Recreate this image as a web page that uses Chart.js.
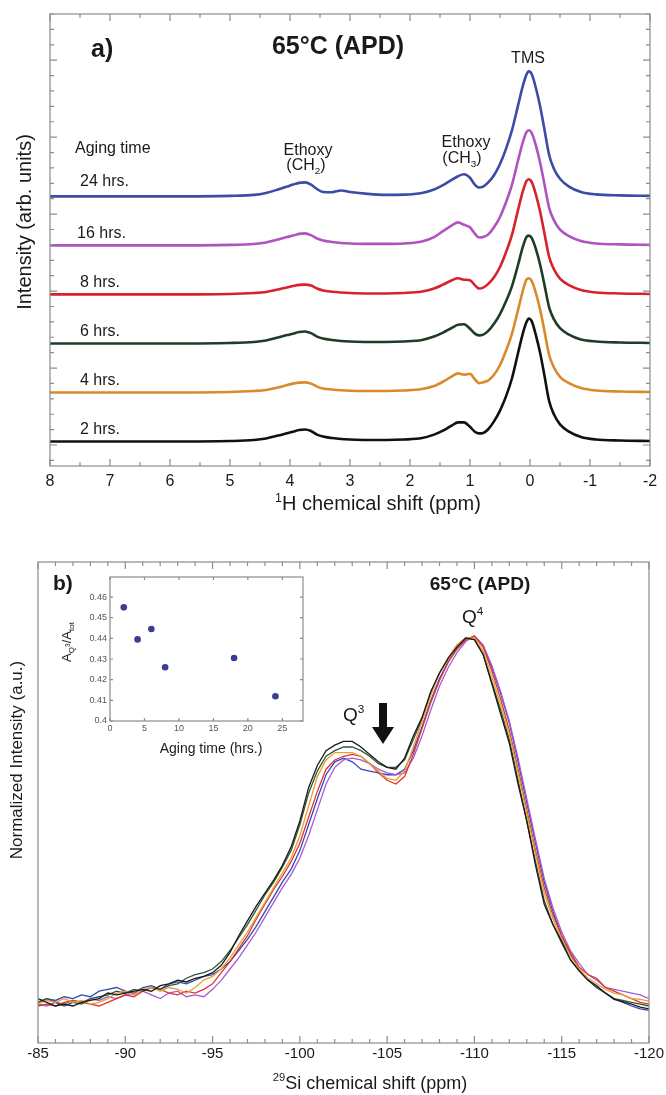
<!DOCTYPE html>
<html>
<head>
<meta charset="utf-8">
<script src="https://cdn.jsdelivr.net/npm/chart.js@4.4.1/dist/chart.umd.min.js"></script>
<style>
  html, body { margin: 0; padding: 0; background: #fff; }
  #page { position: relative; width: 666px; height: 1095px; overflow: hidden; background: #fff; }
  canvas { position: absolute; }
</style>
</head>
<body>
<div id="page">
  <canvas id="chart-h" width="666" height="520" style="left:0;top:0"></canvas>
  <canvas id="chart-si" width="666" height="570" style="left:0;top:525px"></canvas>
  <canvas id="chart-inset" width="250" height="190" style="left:60px;top:568px"></canvas>
</div>
<script>
// ---- (a) 1H spectra, stacked ----
const hShift = [8, 6, 5, 4.6, 4.4, 4.2, 4.05, 3.95, 3.85, 3.75, 3.65, 3.55, 3.45, 3.3, 3.15, 3.0, 2.7, 2.4, 2.1, 1.8,
  1.6, 1.45, 1.3, 1.2, 1.1, 1.0, 0.92, 0.85, 0.78, 0.7, 0.6, 0.5, 0.4, 0.3, 0.2, 0.12, 0.06, 0.02, -0.03, -0.1,
  -0.17, -0.24, -0.32, -0.4, -0.5, -0.65, -0.85, -1.1, -1.5, -2];
const hLabels = ['2 hrs.', '4 hrs.', '6 hrs.', '8 hrs.', '16 hrs.', '24 hrs.'];
const hOffsets = [0.5, 1.5, 2.5, 3.5, 4.5, 5.5];
const h2 = [0, 0, 0.01, 0.03, 0.06, 0.12, 0.17, 0.2, 0.235, 0.245, 0.215, 0.14, 0.1, 0.07, 0.05, 0.04, 0.03, 0.03, 0.04, 0.07,
  0.14, 0.22, 0.33, 0.39, 0.39, 0.3, 0.2, 0.165, 0.175, 0.245, 0.41, 0.63, 0.92, 1.29, 1.8, 2.2, 2.43, 2.51, 2.45, 2.16,
  1.8, 1.35, 0.82, 0.55, 0.35, 0.2, 0.09, 0.04, 0.02, 0.01];
const h4 = [0, 0, 0.01, 0.03, 0.05, 0.1, 0.15, 0.18, 0.2, 0.205, 0.18, 0.12, 0.08, 0.06, 0.045, 0.035, 0.03, 0.03, 0.04, 0.07,
  0.13, 0.22, 0.33, 0.39, 0.36, 0.38, 0.27, 0.19, 0.21, 0.24, 0.36, 0.56, 0.85, 1.2, 1.68, 2.07, 2.3, 2.33, 2.27, 2.02,
  1.68, 1.26, 0.76, 0.51, 0.32, 0.19, 0.09, 0.04, 0.02, 0.01];
const h6 = [0, 0, 0.01, 0.03, 0.06, 0.12, 0.17, 0.2, 0.235, 0.245, 0.21, 0.14, 0.1, 0.07, 0.05, 0.04, 0.03, 0.03, 0.04, 0.07,
  0.14, 0.22, 0.32, 0.38, 0.39, 0.3, 0.2, 0.165, 0.18, 0.25, 0.4, 0.6, 0.86, 1.17, 1.6, 1.97, 2.17, 2.2, 2.15, 1.92,
  1.6, 1.2, 0.73, 0.49, 0.31, 0.18, 0.08, 0.04, 0.02, 0.01];
const h8 = [0, 0, 0.01, 0.03, 0.05, 0.1, 0.14, 0.17, 0.195, 0.2, 0.18, 0.12, 0.08, 0.055, 0.04, 0.03, 0.02, 0.02, 0.03, 0.06,
  0.12, 0.2, 0.29, 0.33, 0.3, 0.29, 0.19, 0.12, 0.14, 0.21, 0.35, 0.56, 0.86, 1.22, 1.72, 2.1, 2.31, 2.35, 2.29, 2.03,
  1.68, 1.25, 0.76, 0.51, 0.32, 0.19, 0.09, 0.04, 0.02, 0.01];
const h16 = [0, 0, 0.01, 0.03, 0.06, 0.12, 0.17, 0.2, 0.235, 0.245, 0.21, 0.14, 0.1, 0.07, 0.05, 0.04, 0.03, 0.03, 0.04, 0.08,
  0.17, 0.29, 0.41, 0.47, 0.42, 0.37, 0.24, 0.16, 0.17, 0.22, 0.37, 0.58, 0.88, 1.24, 1.73, 2.1, 2.31, 2.35, 2.29, 2.03,
  1.68, 1.25, 0.76, 0.51, 0.32, 0.19, 0.09, 0.04, 0.02, 0.01];
const h24 = [0, 0, 0.01, 0.03, 0.07, 0.14, 0.2, 0.24, 0.275, 0.285, 0.24, 0.15, 0.09, 0.085, 0.12, 0.09, 0.05, 0.03, 0.035, 0.07,
  0.14, 0.23, 0.34, 0.41, 0.45, 0.38, 0.24, 0.18, 0.2, 0.28, 0.43, 0.66, 0.97, 1.35, 1.85, 2.25, 2.48, 2.55, 2.49, 2.2,
  1.83, 1.37, 0.84, 0.56, 0.36, 0.2, 0.09, 0.04, 0.02, 0.01];
const hColors = ['#111111', '#d98b2b', '#1e3d26', '#d7222c', '#b052c0', '#3b4ca6'];

// ---- (b) 29Si spectra ----
const siShift = [-85, -85.5, -86, -86.5, -87, -87.5, -88, -88.5, -89, -89.5, -90, -90.5, -91, -91.5, -92, -92.5, -93, -93.5,
  -94, -94.5, -95, -95.5, -96, -96.5, -97, -97.5, -98, -98.5, -99, -99.5, -100, -100.5, -101, -101.5, -102, -102.5,
  -103, -103.5, -104, -104.5, -105, -105.5, -106, -106.5, -107, -107.5, -108, -108.5, -109, -109.5, -110, -110.5,
  -111, -111.5, -112, -112.5, -113, -113.5, -114, -114.5, -115, -115.5, -116, -116.5, -117, -117.5, -118, -118.5,
  -119, -119.5, -120];
const si2 = [0.02, 0.01, 0.0, 0.005, 0.0, 0.01, 0.015, 0.02, 0.035, 0.03, 0.035, 0.04, 0.045, 0.04, 0.055, 0.06, 0.07, 0.065,
  0.075, 0.08, 0.09, 0.11, 0.145, 0.19, 0.23, 0.27, 0.305, 0.34, 0.38, 0.43, 0.5, 0.59, 0.65, 0.69, 0.705, 0.715,
  0.715, 0.7, 0.68, 0.66, 0.645, 0.64, 0.67, 0.73, 0.78, 0.85, 0.9, 0.94, 0.97, 0.995, 0.99, 0.95, 0.87, 0.79, 0.71,
  0.6, 0.5, 0.38, 0.275, 0.22, 0.175, 0.125, 0.095, 0.07, 0.055, 0.035, 0.018, 0.012, 0.005, -0.003, -0.008];
const si4 = [0.005, 0.015, 0.01, 0.02, 0.01, 0.015, 0.005, 0.01, 0.02, 0.035, 0.04, 0.03, 0.045, 0.05, 0.04, 0.05, 0.045, 0.035,
  0.05, 0.07, 0.08, 0.1, 0.13, 0.165, 0.2, 0.24, 0.28, 0.32, 0.36, 0.4, 0.46, 0.54, 0.62, 0.665, 0.685, 0.685,
  0.685, 0.675, 0.655, 0.635, 0.615, 0.61, 0.635, 0.7, 0.77, 0.84, 0.9, 0.94, 0.975, 0.995, 0.995, 0.96, 0.89, 0.815, 0.735,
  0.63, 0.52, 0.41, 0.305, 0.235, 0.18, 0.135, 0.1, 0.075, 0.06, 0.045, 0.035, 0.03, 0.02, 0.018, 0.013];
const si6 = [0.01, 0.02, 0.01, 0.0, 0.01, 0.005, 0.02, 0.025, 0.03, 0.04, 0.035, 0.045, 0.04, 0.05, 0.045, 0.055, 0.06, 0.075,
  0.085, 0.09, 0.1, 0.12, 0.15, 0.185, 0.22, 0.26, 0.3, 0.335, 0.375, 0.42, 0.49, 0.575, 0.635, 0.675, 0.69, 0.7,
  0.7, 0.69, 0.675, 0.655, 0.645, 0.645, 0.665, 0.72, 0.775, 0.845, 0.9, 0.94, 0.975, 0.995, 0.99, 0.95, 0.875, 0.8, 0.72,
  0.61, 0.5, 0.39, 0.285, 0.22, 0.17, 0.125, 0.095, 0.07, 0.05, 0.035, 0.02, 0.015, 0.01, 0.005, 0.0];
const si8 = [0.0, 0.005, 0.0, 0.01, 0.015, 0.01, 0.005, 0.0, 0.01, 0.02, 0.03, 0.025, 0.04, 0.05, 0.045, 0.035, 0.03, 0.04,
  0.035, 0.045, 0.06, 0.09, 0.12, 0.155, 0.19, 0.235, 0.275, 0.315, 0.35, 0.39, 0.44, 0.51, 0.58, 0.64, 0.665, 0.675,
  0.68, 0.675, 0.655, 0.63, 0.61, 0.6, 0.62, 0.68, 0.75, 0.82, 0.88, 0.93, 0.965, 0.99, 1.0, 0.97, 0.905, 0.83, 0.745,
  0.64, 0.53, 0.42, 0.32, 0.245, 0.19, 0.145, 0.105, 0.085, 0.075, 0.05, 0.04, 0.03, 0.02, 0.01, 0.005];
const si16 = [0.005, 0.0, 0.01, 0.005, 0.015, 0.01, 0.02, 0.015, 0.025, 0.02, 0.03, 0.035, 0.04, 0.03, 0.02, 0.035, 0.04, 0.025,
  0.03, 0.025, 0.045, 0.07, 0.1, 0.13, 0.165, 0.2, 0.24, 0.28, 0.32, 0.355, 0.4, 0.46, 0.53, 0.6, 0.645, 0.665,
  0.67, 0.665, 0.655, 0.64, 0.63, 0.625, 0.63, 0.67, 0.73, 0.8, 0.865, 0.915, 0.955, 0.985, 1.0, 0.975, 0.92, 0.85, 0.77,
  0.67, 0.56, 0.45, 0.345, 0.265, 0.2, 0.15, 0.115, 0.085, 0.07, 0.05, 0.045, 0.04, 0.035, 0.03, 0.02];
const si24 = [0.01, 0.02, 0.015, 0.025, 0.02, 0.03, 0.025, 0.04, 0.045, 0.05, 0.04, 0.035, 0.05, 0.055, 0.045, 0.06, 0.065, 0.06,
  0.07, 0.08, 0.085, 0.1, 0.12, 0.15, 0.18, 0.215, 0.255, 0.295, 0.335, 0.37, 0.42, 0.49, 0.56, 0.625, 0.66, 0.67,
  0.66, 0.64, 0.635, 0.63, 0.625, 0.625, 0.64, 0.69, 0.755, 0.825, 0.885, 0.93, 0.965, 0.99, 1.0, 0.975, 0.915, 0.845, 0.765,
  0.66, 0.55, 0.44, 0.335, 0.255, 0.19, 0.14, 0.1, 0.07, 0.05, 0.035, 0.02, 0.01, 0.0, -0.008, -0.012];
const siColors = ['#1a1a1a', '#e8a030', '#2f5a36', '#e3342f', '#a65bd6', '#3548b8'];

// ---- inset: Q3 fraction vs aging time ----
const agingHours = [2, 4, 6, 8, 18, 24];
const q3Fraction = [0.455, 0.4395, 0.4445, 0.426, 0.4305, 0.412];

const FONT = "'Liberation Sans', Arial, Helvetica, sans-serif";
const INK = '#1a1a1a';
Chart.defaults.font.family = FONT;

const sup = (text) => ({text, scale: 0.62, dy: -0.42});
const sub = (text) => ({text, scale: 0.62, dy: 0.25});

// draws a run of text pieces (super/subscripts) on one baseline
function drawRich(ctx, x, y, parts, size, {align = 'left', weight = 'normal', rotate = 0} = {}) {
	let total = 0;
	const pieces = parts.map((p) => {
		const s = size * (p.scale || 1);
		ctx.font = `${weight} ${s}px ${FONT}`;
		const w = ctx.measureText(p.text).width;
		total += w;
		return {...p, s, w};
	});
	ctx.save();
	ctx.translate(x, y);
	if (rotate) ctx.rotate(rotate);
	ctx.fillStyle = INK;
	ctx.textAlign = 'left';
	ctx.textBaseline = 'alphabetic';
	let cx = align === 'center' ? -total / 2 : (align === 'right' ? -total : 0);
	for (const p of pieces) {
		ctx.font = `${weight} ${p.s}px ${FONT}`;
		ctx.fillText(p.text, cx, (p.dy || 0) * size);
		cx += p.w;
	}
	ctx.restore();
}

// box around the plot area with inward tick marks
const framePlugin = {
	id: 'frame',
	afterDatasetsDraw(chart, args, opts) {
		const {ctx, chartArea: a} = chart;
		const ticksFor = (scale, spec) => {
			const out = [];
			const kMin = Math.ceil((scale.min - spec.anchor) / spec.step - 1e-6);
			const kMax = Math.floor((scale.max - spec.anchor) / spec.step + 1e-6);
			for (let k = kMin; k <= kMax; k++) {
				out.push({v: spec.anchor + k * spec.step, major: ((k % spec.majorEvery) + spec.majorEvery) % spec.majorEvery === 0});
			}
			return out;
		};
		ctx.save();
		ctx.strokeStyle = opts.color;
		ctx.lineWidth = 1.2;
		ctx.strokeRect(a.left, a.top, a.right - a.left, a.bottom - a.top);
		ctx.beginPath();
		if (opts.x) {
			for (const t of ticksFor(chart.scales.x, opts.x)) {
				const px = chart.scales.x.getPixelForValue(t.v);
				const len = t.major ? opts.major : opts.minor;
				if (opts.x.sides.includes('bottom')) { ctx.moveTo(px, a.bottom); ctx.lineTo(px, a.bottom - len); }
				if (opts.x.sides.includes('top')) { ctx.moveTo(px, a.top); ctx.lineTo(px, a.top + len); }
			}
		}
		if (opts.y) {
			for (const t of ticksFor(chart.scales.y, opts.y)) {
				const py = chart.scales.y.getPixelForValue(t.v);
				const len = t.major ? opts.major : opts.minor;
				if (opts.y.sides.includes('left')) { ctx.moveTo(a.left, py); ctx.lineTo(a.left + len, py); }
				if (opts.y.sides.includes('right')) { ctx.moveTo(a.right, py); ctx.lineTo(a.right - len, py); }
			}
		}
		ctx.stroke();
		ctx.restore();
	},
};

const hiddenGrid = {display: false, drawTicks: false};

// ---- panel a ----
const hText = {
	id: 'hText',
	afterDraw(chart) {
		const {ctx} = chart;
		drawRich(ctx, 91, 57, [{text: 'a)'}], 25, {weight: 'bold'});
		drawRich(ctx, 338, 54, [{text: '65°C (APD)'}], 25, {weight: 'bold', align: 'center'});
		drawRich(ctx, 528, 63, [{text: 'TMS'}], 16, {align: 'center'});
		drawRich(ctx, 75, 153, [{text: 'Aging time'}], 16);
		drawRich(ctx, 308, 155, [{text: 'Ethoxy'}], 16, {align: 'center'});
		drawRich(ctx, 306, 170, [{text: '(CH'}, sub('2'), {text: ')'}], 16, {align: 'center'});
		drawRich(ctx, 466, 147, [{text: 'Ethoxy'}], 16, {align: 'center'});
		drawRich(ctx, 462, 163, [{text: '(CH'}, sub('3'), {text: ')'}], 16, {align: 'center'});
		const yScale = chart.scales.y;
		hLabels.forEach((label, i) => {
			const base = yScale.getPixelForValue(hOffsets[i]);
			drawRich(ctx, i === 4 ? 77 : 80, base - (i === 5 ? 10 : 7), [{text: label}], 16);
		});
		drawRich(ctx, 378, 510, [sup('1'), {text: 'H chemical shift (ppm)'}], 20, {align: 'center'});
		drawRich(ctx, 31, 222, [{text: 'Intensity (arb. units)'}], 20, {align: 'center', rotate: -Math.PI / 2});
	},
};

const hSeries = [h2, h4, h6, h8, h16, h24];
new Chart(document.querySelector('#chart-h'), {
	type: 'line',
	data: {
		datasets: hSeries.map((vals, i) => ({
			label: hLabels[i],
			data: hShift.map((x, j) => ({x, y: vals[j] + hOffsets[i]})),
			borderColor: hColors[i],
			borderWidth: 2.6,
			pointRadius: 0,
			fill: false,
			cubicInterpolationMode: 'monotone',
		})),
	},
	options: {
		responsive: false,
		animation: false,
		devicePixelRatio: 1,
		layout: {padding: {left: 50, right: 16, top: 14, bottom: 0}},
		plugins: {
			legend: {display: false},
			tooltip: {enabled: false},
			frame: {
				color: '#8c8c8c', major: 7, minor: 4,
				x: {anchor: 0, step: 0.5, majorEvery: 2, sides: ['bottom', 'top']},
				y: {anchor: 8.278, step: 0.314, majorEvery: 5, sides: ['left', 'right']},
			},
		},
		scales: {
			x: {
				type: 'linear', min: -2, max: 8, reverse: true,
				grid: hiddenGrid, border: {display: false},
				ticks: {stepSize: 1, padding: 6, color: INK, font: {size: 16}, maxRotation: 0, autoSkip: false},
				afterFit: (s) => { s.height = 54; },
			},
			y: {type: 'linear', min: 0, max: 9.22, display: false},
		},
	},
	plugins: [framePlugin, hText],
});

// ---- panel b ----
const siText = {
	id: 'siText',
	afterDraw(chart) {
		const {ctx} = chart;
		ctx.save();
		ctx.translate(0, -525);
		drawRich(ctx, 53, 590, [{text: 'b)'}], 21, {weight: 'bold'});
		drawRich(ctx, 480, 590, [{text: '65°C (APD)'}], 19, {weight: 'bold', align: 'center'});
		drawRich(ctx, 462, 623, [{text: 'Q'}, sup('4')], 19);
		drawRich(ctx, 343, 721, [{text: 'Q'}, sup('3')], 19);
		// down arrow pointing at the Q3 shoulder
		ctx.fillStyle = '#111';
		ctx.fillRect(379, 703, 8, 25);
		ctx.beginPath();
		ctx.moveTo(372, 727);
		ctx.lineTo(394, 727);
		ctx.lineTo(383, 744);
		ctx.closePath();
		ctx.fill();
		drawRich(ctx, 370, 1089, [sup('29'), {text: 'Si chemical shift (ppm)'}], 18, {align: 'center'});
		drawRich(ctx, 22, 760, [{text: 'Normalized Intensity (a.u.)'}], 17, {align: 'center', rotate: -Math.PI / 2});
		ctx.restore();
	},
};

const siSeries = [si2, si4, si6, si8, si16, si24];
new Chart(document.querySelector('#chart-si'), {
	type: 'line',
	data: {
		datasets: siSeries.map((vals, i) => ({
			label: hLabels[i],
			data: siShift.map((x, j) => ({x, y: vals[j]})),
			borderColor: siColors[i],
			borderWidth: 1.3,
			pointRadius: 0,
			fill: false,
			tension: 0,
		})),
	},
	options: {
		responsive: false,
		animation: false,
		devicePixelRatio: 1,
		layout: {padding: {left: 38, right: 12, top: 37, bottom: 0}},
		plugins: {
			legend: {display: false},
			tooltip: {enabled: false},
			frame: {
				color: '#8c8c8c', major: 7, minor: 4,
				x: {anchor: -85, step: 1, majorEvery: 5, sides: ['bottom', 'top']},
			},
		},
		scales: {
			x: {
				type: 'linear', min: -120, max: -85, reverse: true,
				grid: hiddenGrid, border: {display: false},
				ticks: {stepSize: 5, padding: 2, color: INK, font: {size: 15}, maxRotation: 0, autoSkip: false},
				afterFit: (s) => { s.height = 52; },
			},
			y: {type: 'linear', min: -0.1, max: 1.2, display: false},
		},
	},
	plugins: [framePlugin, siText],
});

// ---- inset ----
const insetText = {
	id: 'insetText',
	afterDraw(chart) {
		const {ctx} = chart;
		ctx.save();
		ctx.translate(-60, -568);
		drawRich(ctx, 211, 753, [{text: 'Aging time (hrs.)'}], 14, {align: 'center'});
		drawRich(ctx, 71, 642, [{text: 'A'}, sub('Q'), {text: '3', scale: 0.5, dy: -0.08}, {text: '/A'}, sub('tot')], 13,
			{align: 'center', rotate: -Math.PI / 2});
		ctx.restore();
	},
};

new Chart(document.querySelector('#chart-inset'), {
	type: 'scatter',
	data: {
		datasets: [{
			data: agingHours.map((x, i) => ({x, y: q3Fraction[i]})),
			pointRadius: 3.3,
			backgroundColor: '#3a3c98',
			borderWidth: 0,
		}],
	},
	options: {
		responsive: false,
		animation: false,
		devicePixelRatio: 1,
		layout: {padding: {left: 0, right: 7, top: 9, bottom: 0}},
		plugins: {
			legend: {display: false},
			tooltip: {enabled: false},
			frame: {
				color: '#8c8c8c', major: 3, minor: 3,
				x: {anchor: 0, step: 5, majorEvery: 1, sides: ['bottom', 'top']},
				y: {anchor: 0.4, step: 0.01, majorEvery: 1, sides: ['left', 'right']},
			},
		},
		scales: {
			x: {
				type: 'linear', min: 0, max: 28,
				grid: hiddenGrid, border: {display: false},
				ticks: {stepSize: 5, includeBounds: false, padding: 2, color: '#555', font: {size: 9}, maxRotation: 0},
				afterFit: (s) => { s.height = 37; },
			},
			y: {
				type: 'linear', min: 0.4, max: 0.4697,
				grid: hiddenGrid, border: {display: false},
				ticks: {
					stepSize: 0.01, includeBounds: false, padding: 3, color: '#555', font: {size: 9},
					callback: (v) => String(Number(Number(v).toFixed(2))),
				},
				afterFit: (s) => { s.width = 50; },
			},
		},
	},
	plugins: [framePlugin, insetText],
});
</script>
</body>
</html>
